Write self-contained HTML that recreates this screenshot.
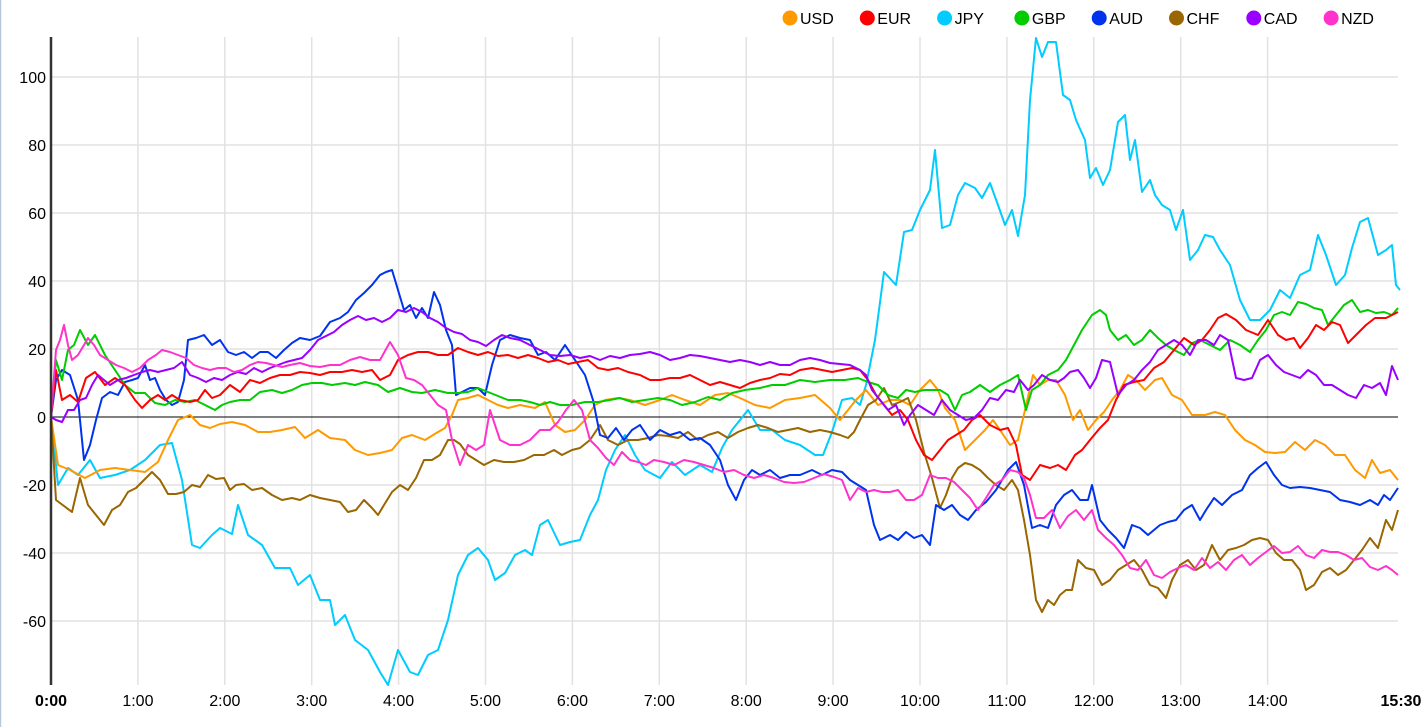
<!DOCTYPE html>
<html><head><meta charset="utf-8"><style>
html,body{margin:0;padding:0;background:#fff;}
svg{display:block;font-family:"Liberation Sans",Arial,sans-serif;}
</style></head><body>
<svg id="c" width="1424" height="727" viewBox="0 0 1424 727" xmlns="http://www.w3.org/2000/svg">
<rect x="0" y="0" width="1424" height="727" fill="#fff"/>
<line x1="0.5" y1="0" x2="0.5" y2="727" stroke="#b8c8d8" stroke-width="1.5"/>
<g id="grid"></g>
<g id="series" fill="none" stroke-width="2" stroke-linejoin="round"></g>
<line x1="51" y1="37" x2="51" y2="685" stroke="#333" stroke-width="2.5"/>
<g id="labels" font-size="16" fill="#000"></g>
<g id="legend" font-size="16" fill="#000"></g>
</svg>
<script>
var NS="http://www.w3.org/2000/svg";
function el(t,a,p,txt){var e=document.createElementNS(NS,t);for(var k in a)e.setAttribute(k,a[k]);if(txt!=null)e.textContent=txt;document.getElementById(p).appendChild(e);return e;}
var X0=51,HW=86.9;
for(var h=1;h<=14;h++){var x=X0+h*HW;el('line',{x1:x,y1:37,x2:x,y2:685,stroke:'#e2e2e2','stroke-width':1.5},'grid');}
for(var v=-60;v<=100;v+=20){var y=417-3.4*v;
 el('line',{x1:51,y1:y,x2:1398,y2:y,stroke:v==0?'#000':'#e2e2e2','stroke-width':v==0?1:1.5},'grid');
 el('text',{x:46,y:y+6,'text-anchor':'end'},'labels',String(v));}
for(var h=0;h<=14;h++){var x=X0+h*HW;var t=el('text',{x:x,y:706,'text-anchor':'middle'},'labels',h+':00');if(h==0)t.setAttribute('font-weight','bold');}
el('text',{x:1401,y:706,'text-anchor':'middle','font-weight':'bold'},'labels','15:30');
var S=[
['#00ccff',"51,417 58,485 68,468 78,475 90,460 100,478 115,475 130,470 145,460 160,445 172,443 182,480 192,545 200,548 212,535 220,528 232,534 238,505 248,535 262,545 275,568 290,568 298,585 310,575 320,600 330,600 335,625 345,615 355,640 368,650 380,672 388,685 398,650 410,672 418,675 428,655 438,650 448,620 458,575 468,555 478,548 488,560 495,580 505,573 515,555 525,550 532,555 540,525 548,520 560,545 570,542 580,540 590,515 598,500 606,470 615,450 625,435 635,455 645,470 660,478 672,462 685,475 700,465 712,472 722,448 732,430 740,420 748,410 760,430 772,430 785,440 800,445 815,455 823,455 832,432 842,400 852,398 860,405 866,385 875,340 884,272 896,285 904,232 912,230 920,210 930,190 935,150 942,228 950,225 958,195 965,183 975,188 982,198 990,183 998,205 1005,225 1012,210 1018,236 1025,195 1030,100 1036,38 1042,57 1048,42 1056,42 1063,95 1070,100 1076,120 1085,140 1090,178 1096,168 1103,185 1110,170 1118,122 1125,115 1130,160 1135,140 1142,192 1150,180 1155,195 1162,205 1170,210 1176,230 1183,210 1190,260 1198,250 1205,235 1213,237 1220,250 1230,265 1240,300 1250,320 1260,320 1270,310 1280,290 1290,298 1300,275 1310,270 1318,235 1326,255 1336,285 1345,275 1352,248 1360,222 1368,218 1378,255 1386,250 1392,245 1396,285 1400,290"],
['#ff9900',"51,417 58,465 70,470 85,478 100,470 115,468 130,470 145,472 158,462 168,440 178,420 190,415 200,425 210,428 220,424 232,422 245,425 258,432 270,432 282,430 295,427 305,438 318,430 330,438 345,440 355,450 368,455 380,453 392,450 402,438 412,435 425,440 438,432 445,428 452,415 458,400 468,398 478,395 488,400 498,405 508,408 520,405 535,408 545,402 555,425 565,432 575,430 585,420 595,405 605,400 618,398 630,400 645,405 660,400 672,395 685,400 700,405 715,395 728,393 740,398 755,405 770,408 785,400 800,398 815,395 830,408 840,420 848,410 856,400 866,390 878,405 890,400 900,400 910,405 920,390 930,380 938,390 945,408 955,420 965,450 975,440 985,430 993,420 1000,430 1010,445 1018,440 1025,410 1033,375 1040,385 1048,380 1056,380 1065,395 1073,420 1080,410 1088,430 1096,420 1104,412 1112,400 1120,390 1128,375 1136,380 1145,390 1155,380 1162,378 1172,395 1182,400 1192,415 1205,415 1215,412 1225,415 1235,430 1245,440 1255,445 1265,452 1275,453 1285,452 1295,442 1305,450 1315,440 1325,445 1335,455 1345,455 1355,470 1365,478 1372,460 1380,473 1390,470 1398,480"],
['#996600',"51,417 56,500 64,506 72,512 80,478 88,505 96,515 104,525 112,510 120,505 128,492 136,488 144,480 152,472 160,480 168,494 176,494 184,492 192,485 200,487 208,475 216,479 224,478 230,490 236,485 244,484 252,490 262,488 272,495 282,500 292,498 300,500 310,495 320,498 330,500 340,502 348,512 356,510 364,500 372,508 378,515 384,505 392,492 400,485 408,490 416,478 424,460 432,460 440,455 448,440 454,440 460,444 468,455 476,460 484,465 494,460 504,462 514,462 524,460 534,455 544,455 554,450 562,455 572,450 580,448 590,440 600,425 608,440 618,445 628,440 638,440 648,438 658,435 668,436 678,438 688,432 698,440 708,435 718,432 728,438 738,432 748,428 758,425 768,428 778,432 788,430 798,428 810,432 820,430 830,432 840,435 848,438 854,432 860,420 868,405 876,400 884,388 892,405 900,402 908,398 916,420 924,452 932,478 940,508 946,495 952,478 958,468 965,463 972,465 980,470 988,478 996,485 1004,490 1012,480 1018,490 1024,520 1030,555 1036,600 1042,612 1048,600 1054,605 1060,595 1066,590 1072,590 1078,560 1086,568 1094,570 1102,585 1110,580 1118,570 1126,565 1134,560 1142,570 1150,585 1158,588 1166,598 1172,580 1180,565 1188,560 1196,570 1204,565 1212,545 1220,560 1228,550 1236,548 1244,545 1252,540 1260,538 1268,540 1276,553 1284,560 1292,560 1300,570 1306,590 1314,585 1322,572 1330,568 1338,575 1346,570 1354,560 1362,550 1370,538 1378,548 1386,520 1392,530 1398,510"],
['#0033ee',"51,417 56,380 62,370 70,375 78,400 84,460 90,445 96,420 102,398 110,392 118,395 125,382 132,380 138,378 145,365 150,380 155,378 160,390 166,400 172,405 178,402 184,380 188,340 196,338 204,335 212,345 220,340 228,352 236,355 244,352 252,358 260,352 268,352 276,358 284,350 292,343 300,338 310,340 320,336 330,322 340,318 348,312 356,300 364,293 372,285 380,275 386,272 392,270 398,290 404,310 410,305 416,318 422,308 428,318 434,292 440,305 446,330 452,345 456,395 462,392 470,388 478,388 485,395 492,365 500,340 510,335 520,338 530,340 538,355 546,352 555,360 565,345 575,360 585,375 593,400 600,435 608,438 616,428 624,440 632,430 640,425 650,440 660,430 670,435 680,432 690,440 700,438 710,445 720,460 728,485 736,500 744,480 752,470 760,475 770,470 780,478 790,475 800,475 812,470 822,475 832,470 842,472 850,480 858,485 866,490 874,525 880,540 890,535 898,540 906,532 914,538 922,535 930,545 936,505 944,510 952,505 960,515 968,520 976,510 986,502 996,490 1008,470 1016,462 1024,485 1032,528 1040,525 1048,528 1056,505 1064,495 1072,490 1080,500 1088,500 1092,485 1100,520 1108,530 1116,538 1124,548 1132,525 1140,528 1148,535 1154,530 1160,525 1168,522 1176,520 1184,510 1192,505 1200,520 1206,510 1214,498 1222,505 1232,495 1242,490 1250,475 1258,468 1266,462 1274,475 1282,485 1290,488 1300,487 1310,488 1320,490 1330,492 1340,500 1350,502 1360,505 1370,500 1378,505 1384,495 1390,500 1398,488"],
['#00cc00',"51,417 56,360 62,380 68,350 74,345 80,330 88,345 95,335 105,355 115,370 125,385 135,393 145,393 155,403 165,405 175,400 185,402 195,400 205,405 215,410 222,405 230,402 240,400 250,400 260,392 272,390 282,393 292,390 302,385 312,383 322,383 332,385 345,383 355,385 365,382 378,385 388,392 400,388 412,392 422,393 435,390 448,393 458,393 468,392 478,388 488,392 498,396 508,400 520,400 530,402 540,405 550,402 560,405 572,405 585,402 598,402 610,400 620,398 632,402 645,400 658,398 670,400 682,405 695,402 708,397 720,400 732,393 745,390 760,388 772,385 785,385 800,380 815,382 830,380 845,380 858,378 868,382 878,385 888,395 898,398 906,390 915,392 924,390 932,390 940,390 948,395 955,410 962,395 970,392 980,385 990,392 1000,385 1010,380 1018,375 1026,410 1032,390 1040,385 1048,375 1058,370 1066,360 1074,345 1082,330 1092,315 1100,310 1106,315 1110,330 1118,340 1126,335 1134,345 1142,340 1150,330 1158,338 1166,345 1174,350 1184,355 1192,343 1200,340 1210,345 1220,350 1230,340 1240,345 1250,352 1258,340 1266,330 1274,315 1282,312 1290,315 1298,302 1306,304 1314,308 1322,310 1328,325 1336,315 1344,305 1352,300 1360,312 1368,310 1376,313 1384,312 1392,315 1398,308"],
['#ff0000',"51,417 56,370 62,400 70,395 78,402 86,378 95,372 105,385 115,378 125,385 135,400 142,408 150,400 158,395 165,400 172,395 180,400 190,402 198,400 205,390 212,398 220,395 230,385 240,392 250,380 260,383 270,378 280,375 290,375 300,372 310,373 320,375 330,372 342,372 352,370 362,372 372,370 380,380 390,375 398,360 408,355 418,352 428,352 438,355 448,355 458,348 468,352 478,355 488,352 498,356 508,355 518,358 528,355 538,358 548,362 558,360 568,364 578,362 588,360 598,368 608,370 618,368 628,372 640,375 650,380 660,380 670,378 680,378 690,375 700,380 710,385 720,382 730,385 740,388 750,383 760,380 770,378 780,374 790,375 800,370 812,368 822,370 832,372 842,370 852,368 860,370 868,380 876,395 884,405 892,415 900,410 908,420 916,440 924,455 932,460 940,450 948,440 956,435 964,430 972,420 980,415 990,425 1000,430 1008,428 1016,445 1022,475 1030,480 1040,465 1050,468 1058,465 1066,470 1075,455 1082,450 1090,440 1100,428 1108,420 1116,400 1124,385 1134,382 1144,380 1154,368 1164,362 1174,350 1184,338 1194,345 1202,340 1210,330 1218,318 1226,314 1236,320 1246,330 1258,335 1268,320 1278,335 1286,340 1294,338 1300,348 1308,338 1316,325 1324,330 1332,322 1340,325 1348,343 1356,335 1366,325 1375,318 1386,318 1398,312"],
['#9900ff',"51,417 56,420 62,422 68,410 74,410 80,400 86,398 92,385 98,375 104,380 110,385 118,380 126,378 134,375 142,372 150,370 158,372 166,370 174,368 182,362 190,375 198,378 206,382 214,378 222,380 230,375 238,372 246,374 254,368 262,372 270,368 278,365 286,362 294,360 302,358 310,350 318,340 326,336 334,332 342,325 350,320 358,316 366,320 374,318 382,322 390,318 398,310 406,312 414,308 422,312 430,318 438,322 446,328 454,332 462,334 470,340 478,342 486,346 494,340 502,335 510,338 520,340 530,345 540,350 550,355 560,356 570,355 580,358 590,356 600,360 610,356 620,358 630,355 640,354 650,352 660,355 670,360 680,358 690,355 700,356 710,358 720,360 730,362 740,360 750,362 760,365 770,362 780,365 790,365 800,360 810,358 820,360 830,363 840,364 850,365 860,370 866,375 872,390 880,400 888,410 896,405 904,425 910,415 918,405 926,410 934,415 942,400 950,410 958,415 966,420 974,418 982,410 990,398 998,400 1006,390 1014,392 1020,380 1028,390 1034,385 1042,375 1050,380 1058,382 1064,378 1070,372 1078,370 1084,378 1090,388 1096,378 1102,360 1110,362 1118,395 1126,385 1134,380 1142,370 1150,362 1158,350 1166,345 1174,340 1182,345 1190,355 1198,340 1206,340 1214,345 1220,335 1228,340 1236,378 1244,380 1252,378 1260,360 1268,355 1276,365 1284,372 1292,375 1300,378 1308,370 1316,375 1324,385 1332,385 1340,390 1348,395 1356,398 1364,385 1372,388 1380,383 1386,395 1392,366 1398,380"],
['#ff33cc',"51,417 56,350 60,340 64,325 68,345 72,360 78,355 84,345 88,338 94,345 100,355 108,360 116,365 124,368 132,372 140,368 148,360 156,355 162,350 170,352 178,355 186,358 194,365 202,368 210,370 218,368 226,368 234,372 242,370 250,365 258,362 266,363 274,365 282,367 290,365 300,363 310,366 320,367 330,365 340,365 350,360 360,357 370,360 380,360 390,342 398,355 406,378 414,380 422,385 430,395 438,405 446,410 452,440 460,465 468,445 476,450 484,445 490,410 500,440 510,445 520,445 530,440 540,430 550,430 558,422 566,410 574,400 582,410 590,440 598,448 606,458 614,465 622,452 630,460 638,462 646,465 654,460 664,462 674,465 684,460 694,462 704,465 714,468 724,472 734,470 744,475 754,478 764,475 774,478 784,482 794,483 804,482 814,478 824,474 834,477 842,480 850,500 858,488 866,492 874,490 882,492 890,492 898,490 906,500 914,500 922,495 930,475 938,478 946,478 954,482 962,490 970,498 978,510 986,498 994,485 1002,480 1010,470 1018,472 1024,478 1030,495 1036,518 1044,518 1052,510 1060,528 1068,516 1076,510 1084,520 1092,510 1098,530 1106,538 1114,545 1122,555 1130,568 1138,570 1146,560 1154,575 1162,578 1170,572 1178,568 1186,565 1194,570 1202,558 1210,568 1218,562 1226,570 1234,560 1242,555 1250,565 1258,558 1266,552 1274,546 1282,553 1290,552 1298,546 1306,555 1314,558 1322,550 1330,552 1338,552 1346,555 1354,560 1362,558 1370,567 1378,570 1386,566 1392,570 1398,575"]
];
S.forEach(function(s){el('polyline',{points:s[1],stroke:s[0]},'series');});
var L=[['USD','#ff9900'],['EUR','#ff0000'],['JPY','#00ccff'],['GBP','#00cc00'],['AUD','#0033ee'],['CHF','#996600'],['CAD','#9900ff'],['NZD','#ff33cc']];
L.forEach(function(l,i){var cx=790+i*77.3;el('circle',{cx:cx,cy:18,r:7.5,fill:l[1]},'legend');el('text',{x:cx+10,y:24},'legend',l[0]);});
</script>
</body></html>
